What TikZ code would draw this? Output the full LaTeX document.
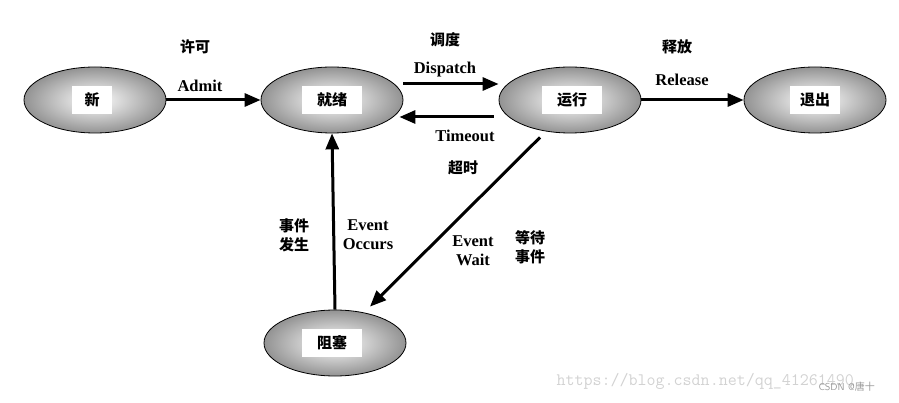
\documentclass[tikz,border=0pt]{standalone}
\usepackage{fontspec}
\setmainfont{Liberation Serif}
\newfontfamily\cjk{Noto Sans CJK SC}
\usetikzlibrary{arrows.meta,shapes.geometric}
\begin{document}
\begin{tikzpicture}[x=1pt,y=-1pt,
  state/.style={ellipse,draw=black,line width=0.8pt,minimum width=142pt,minimum height=66pt,inner sep=0pt,
    shading=radial,inner color=white,middle color=gray!45,outer color=gray!85},
  tag/.style={fill=white,inner sep=0pt,minimum height=28pt,font=\cjk\bfseries\fontsize{15}{15}\selectfont},
  arr/.style={line width=3pt,-{Triangle[length=16pt,width=13pt]}},
  lab/.style={font=\bfseries\fontsize{16.5}{19}\selectfont,align=center},
  clab/.style={font=\cjk\bfseries\fontsize{15}{19}\selectfont,align=center}]
\useasboundingbox (0,0) rectangle (899,403);
\node[state] (new) at (95,100) {};
\node[state] (ready) at (332,100) {};
\node[state] (run) at (570,100) {};
\node[state] (exit) at (815,100) {};
\node[state] (block) at (335,343) {};
\node[tag,minimum width=40pt] (tnew) at (92,100) {新};
\node[tag,minimum width=60pt] (tready) at (332,100) {就绪};
\node[tag,minimum width=60pt] (trun) at (572,100) {运行};
\node[tag,minimum width=50pt] (texit) at (815,100) {退出};
\node[tag,minimum width=60pt] (tblock) at (332,343) {阻塞};
\draw[arr] (new.east) -- (ready.west);
\draw[arr] (ready.east |- 0,84) coordinate (d1) -- (run.west |- 0,84) coordinate (d2);
\draw[arr] ([xshift=-5pt]run.west |- 0,117) -- ([xshift=-4pt]ready.east |- 0,117);
\draw[arr] (run.east) -- (exit.west);
\draw[arr] ([shift={(-30pt,-4pt)}]run.south) -- ([xshift=35pt,yshift=3pt]block.north);
\draw[arr] (block.north) -- (ready.south);
\node[clab] (l1) at (195,47) {许可};
\node[lab] (l2) at (200,86) {Admit};
\node[clab] (l3) at (445,40) {调度};
\node[lab] (l4) at (445,70) {Dispatch};
\node[clab] (l5) at (677,47) {释放};
\node[lab] (l6) at (682,80) {Release};
\node[lab] (l7) at (465,136) {Timeout};
\node[clab] (l8) at (463,168) {超时};
\node[clab] (l9) at (294,235) {事件\\发生};
\node[lab] (l10) at (368,235) {Event\\Occurs};
\node[lab] (l11) at (473,251) {Event\\Wait};
\node[clab] (l12) at (530,247) {等待\\事件};
\node[font=\ttfamily\fontsize{17.5}{17.5}\selectfont,text=gray!35,anchor=west] (wm) at (553,381) {https://blog.csdn.net/qq\_41261490};
\node[font=\sffamily\fontsize{10}{10}\selectfont,text=gray!80,anchor=west] (wm2) at (815,387) {CSDN @\cjk 唐十};
\end{tikzpicture}
\end{document}
